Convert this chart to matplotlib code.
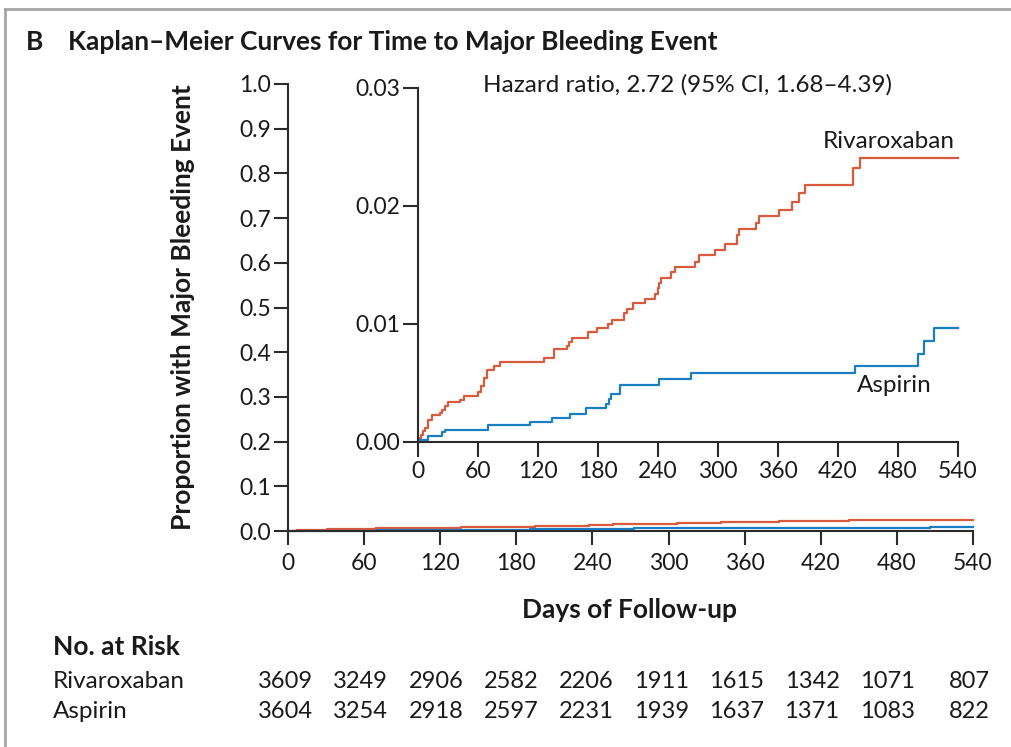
import matplotlib
matplotlib.use("Agg")
import matplotlib.pyplot as plt
from matplotlib.lines import Line2D

plt.rcParams['font.family'] = ['Lato', 'DejaVu Sans']

# ---------------- data ----------------
red_days = [0, 1.5, 3, 5, 7, 10, 14, 21.7, 24, 27.4, 30.4, 41.7, 45.7, 60.1, 63.4, 65.7, 69.1,
            76.1, 81.8, 126, 136, 148.5, 151, 153.6, 170, 178.7, 190.4, 194.4, 205.5, 208.8,
            214.5, 227.3, 237.4, 239.5, 241, 243, 252.5, 256.5, 276.7, 280.5, 296.6, 306.6,
            319.4, 321, 337.7, 341.1, 361.1, 373.5, 381.2, 386.9, 435.3, 442, 540]
red_vals = [0, 0.0003, 0.0006, 0.0009, 0.0012, 0.00185, 0.00225, 0.00242, 0.00275, 0.00309,
            0.00340, 0.00360, 0.00394, 0.00422, 0.00473, 0.00544, 0.00614, 0.00643, 0.00680,
            0.00713, 0.00784, 0.00812, 0.00849, 0.00883, 0.00934, 0.00965, 0.01001, 0.01038,
            0.01089, 0.01123, 0.01174, 0.01208, 0.01258, 0.01307, 0.01349, 0.01391, 0.01442,
            0.01482, 0.01527, 0.01581, 0.01631, 0.01682, 0.01750, 0.01801, 0.01852, 0.01919,
            0.01970, 0.02035, 0.02106, 0.02174, 0.02323, 0.02408, 0.02408]

blue_days = [0, 2.3, 10, 24.1, 27.4, 70.2, 112, 134.4, 152.1, 167.8, 187.9, 190.6, 192.9,
             202.3, 240.7, 272.5, 436.9, 499.8, 505.8, 515.9, 540]
blue_vals = [0, 0.00016, 0.00055, 0.00083, 0.00103, 0.00140, 0.00171, 0.00205, 0.00239,
             0.00290, 0.00326, 0.00366, 0.00408, 0.00479, 0.00530, 0.00581, 0.00643, 0.00748,
             0.00855, 0.00968, 0.00968]

x_ticks = [0, 60, 120, 180, 240, 300, 360, 420, 480, 540]
main_y_ticks = [0.0, 0.1, 0.2, 0.3, 0.4, 0.5, 0.6, 0.7, 0.8, 0.9, 1.0]
inset_y_ticks = [0.00, 0.01, 0.02, 0.03]

risk_groups = ["Rivaroxaban", "Aspirin"]
risk_rivaroxaban = [3609, 3249, 2906, 2582, 2206, 1911, 1615, 1342, 1071, 807]
risk_aspirin = [3604, 3254, 2918, 2597, 2231, 1939, 1637, 1371, 1083, 822]

title_letter = "B"
title = "Kaplan\u2013Meier Curves for Time to Major Bleeding Event"
y_label = "Proportion with Major Bleeding Event"
x_label = "Days of Follow-up"
hr_text = "Hazard ratio, 2.72 (95% CI, 1.68\u20134.39)"

# ---------------- style ----------------
RED = '#d95a3c'
BLUE = '#1b7ec2'
AX = '#2b2b2b'
TXT = '#1a1a1a'
W, H = 1011, 747
TICK_FS = 16.5
LAB_FS = 17.5


def fx(x):
    return x / W


def fy(y):
    return 1 - y / H


fig = plt.figure(figsize=(W / 100, H / 100), dpi=100)

# frame lines
fig.add_artist(Line2D([fx(5), 1.0], [fy(9), fy(9)], color='#a6a6a6', lw=2))
fig.add_artist(Line2D([fx(5), fx(5)], [fy(9), 0.0], color='#a6a6a6', lw=2))


def style_axes(ax, ticklen, xpad):
    for s in ['top', 'right']:
        ax.spines[s].set_visible(False)
    for s in ['left', 'bottom']:
        ax.spines[s].set_color(AX)
        ax.spines[s].set_linewidth(1.5)
    ax.tick_params(axis='both', length=ticklen, width=1.5, color=AX,
                   labelsize=TICK_FS, labelcolor=TXT)
    ax.tick_params(axis='y', pad=2)
    ax.tick_params(axis='x', pad=xpad)


# main axes
ax = fig.add_axes([fx(288), fy(531), 685 / W, 447 / H])
ax.set_facecolor('none')
ax.step(red_days, red_vals, where='post', color=RED, lw=1.6, clip_on=False)
ax.step(blue_days, blue_vals, where='post', color=BLUE, lw=1.6, clip_on=False)
ax.set_xlim(0, 540)
ax.set_ylim(0, 1.0)
ax.set_xticks(x_ticks)
ax.set_xticklabels([str(t) for t in x_ticks])
ax.set_yticks(main_y_ticks)
ax.set_yticklabels([f"{t:.1f}" for t in main_y_ticks])
style_axes(ax, 10, 6)

# inset axes
ins = fig.add_axes([fx(418), fy(442), 540 / W, 354 / H])
ins.set_facecolor('none')
ins.step(red_days, red_vals, where='post', color=RED, lw=1.6, clip_on=False)
ins.step(blue_days, blue_vals, where='post', color=BLUE, lw=1.6, clip_on=False)
ins.set_xlim(0, 540)
ins.set_ylim(0, 0.03)
ins.set_xticks(x_ticks)
ins.set_xticklabels([str(t) for t in x_ticks])
ins.set_yticks(inset_y_ticks)
ins.set_yticklabels([f"{t:.2f}" for t in inset_y_ticks])
style_axes(ins, 11, 3)

# texts
BOLD = dict(fontsize=19, fontweight='bold', color=TXT)
fig.text(fx(26), fy(42), title_letter, ha='left', va='center', **BOLD)
fig.text(fx(68), fy(42), title, ha='left', va='center', **BOLD)
fig.text(fx(183), fy(307), y_label, ha='center', va='center', rotation=90, **BOLD)
fig.text(fx(630), fy(610), x_label, ha='center', va='center', **BOLD)

fig.text(fx(483), fy(85), hr_text, ha='left', va='center', fontsize=LAB_FS, color=TXT)
fig.text(fx(955), fy(142), "Rivaroxaban", ha='right', va='center', fontsize=LAB_FS, color=TXT)
fig.text(fx(857), fy(385), "Aspirin", ha='left', va='center', fontsize=LAB_FS, color=TXT)

fig.text(fx(53), fy(647), "No. at Risk", ha='left', va='center', **BOLD)
rows = [risk_rivaroxaban, risk_aspirin]
row_y = [681, 711]
for name, vals, yy in zip(risk_groups, rows, row_y):
    fig.text(fx(53), fy(yy), name, ha='left', va='center', fontsize=LAB_FS, color=TXT)
    for i, v in enumerate(vals):
        fig.text(fx(313 + 75.2 * i), fy(yy), str(v), ha='right', va='center',
                 fontsize=17, color=TXT)

fig.savefig("out.png", dpi=100)
